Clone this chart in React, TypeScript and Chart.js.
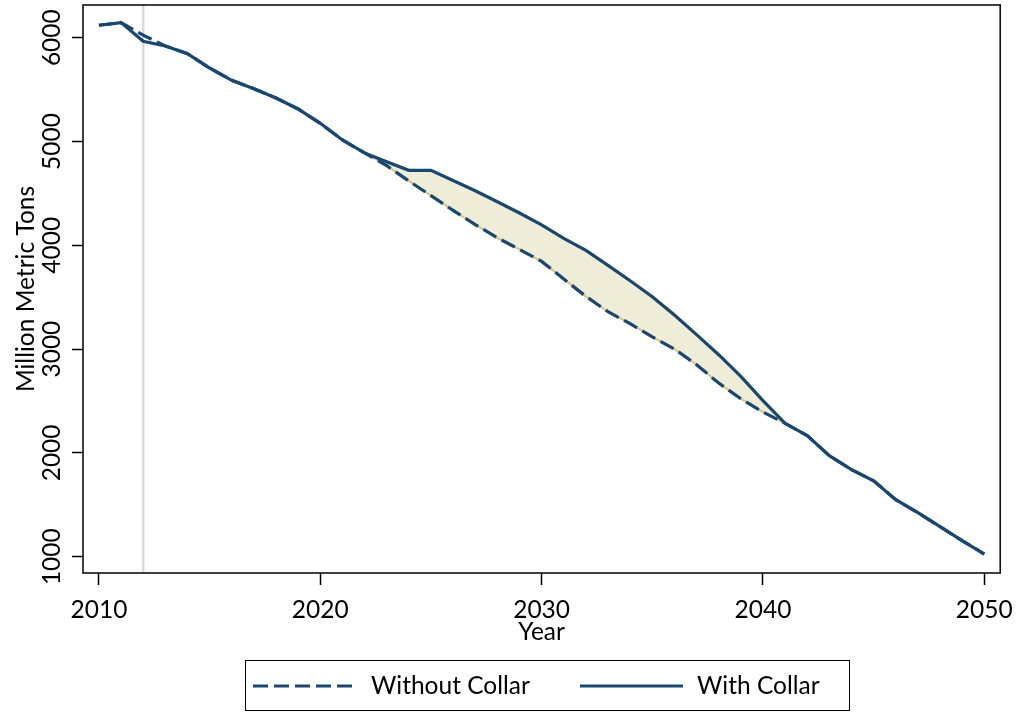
import { useEffect, useRef } from "react";
import { Chart, registerables } from "chart.js";

Chart.register(...registerables);

const years = [
  2010, 2011, 2012, 2013, 2014, 2015, 2016, 2017, 2018, 2019,
  2020, 2021, 2022, 2023, 2024, 2025, 2026, 2027, 2028, 2029,
  2030, 2031, 2032, 2033, 2034, 2035, 2036, 2037, 2038, 2039,
  2040, 2041, 2042, 2043, 2044, 2045, 2046, 2047, 2048, 2049, 2050,
];

const withCollar = [
  6120, 6145, 5965, 5920, 5846, 5708, 5589, 5509, 5419, 5313,
  5175, 5015, 4890, 4805, 4722, 4722, 4625, 4525, 4420, 4311,
  4196, 4067, 3951, 3806, 3659, 3505, 3328, 3139, 2946, 2737,
  2503, 2285, 2166, 1973, 1838, 1732, 1549, 1424, 1289, 1154, 1026,
];

const withoutCollar = [
  6120, 6145, 6025, 5920, 5846, 5708, 5589, 5509, 5419, 5313,
  5175, 5015, 4890, 4767, 4620, 4478, 4336, 4200, 4072, 3960,
  3845, 3675, 3508, 3360, 3245, 3117, 3001, 2850, 2673, 2522,
  2394, 2285, 2166, 1973, 1838, 1732, 1549, 1424, 1289, 1154, 1026,
];

const bandYears = [2022, 2041];
const referenceYears = [2012];
const xTicks = [2010, 2020, 2030, 2040, 2050];
const yTicks = [1000, 2000, 3000, 4000, 5000, 6000];
const xRange = [2009.28, 2050.72];
const yRange = [843, 6315];
const seriesLabels = ["Without Collar", "With Collar"];
const xTitle = "Year";
const yTitle = "Million Metric Tons";

const NAVY = "#1A476F";
const FILL = "#EFECD8";
const TAN = "#D2C687";
const FONT = 'Lato, "Open Sans", sans-serif';
const FS = 24.5;

const toPoints = (vals: number[]) => years.map((x, i) => ({ x, y: vals[i] }));
const inBand = (p: { x: number }) => p.x >= bandYears[0] && p.x <= bandYears[1];

const decorPlugin = {
  id: "decor",
  beforeDatasetsDraw(chart: any) {
    const { ctx, chartArea, scales } = chart;
    ctx.save();
    ctx.strokeStyle = "#DADADA";
    ctx.lineWidth = 2.5;
    referenceYears.forEach((yr) => {
      const x = scales.x.getPixelForValue(yr);
      ctx.beginPath();
      ctx.moveTo(x, chartArea.top);
      ctx.lineTo(x, chartArea.bottom);
      ctx.stroke();
    });
    ctx.restore();
  },
  afterDraw(chart: any) {
    const { ctx, chartArea, scales } = chart;
    ctx.save();
    ctx.strokeStyle = "#111";
    ctx.lineWidth = 1.6;
    ctx.strokeRect(
      chartArea.left,
      chartArea.top,
      chartArea.right - chartArea.left,
      chartArea.bottom - chartArea.top
    );
    ctx.fillStyle = "#000";
    ctx.font = `${FS}px ${FONT}`;
    ctx.textAlign = "center";
    ctx.textBaseline = "middle";
    yTicks.forEach((v) => {
      const y = scales.y.getPixelForValue(v);
      ctx.save();
      ctx.translate(52, y);
      ctx.rotate(-Math.PI / 2);
      ctx.fillText(String(v), 0, 0);
      ctx.restore();
    });
    ctx.save();
    ctx.translate(26, (chartArea.top + chartArea.bottom) / 2);
    ctx.rotate(-Math.PI / 2);
    ctx.fillText(yTitle, 0, 0);
    ctx.restore();
    ctx.fillText(xTitle, (chartArea.left + chartArea.right) / 2, 632);
    ctx.strokeStyle = "#000";
    ctx.lineWidth = 1;
    ctx.strokeRect(245.5, 660.5, 604, 50);
    ctx.strokeStyle = NAVY;
    ctx.lineWidth = 3;
    ctx.setLineDash([15, 6]);
    ctx.beginPath();
    ctx.moveTo(253, 686);
    ctx.lineTo(355, 686);
    ctx.stroke();
    ctx.setLineDash([]);
    ctx.beginPath();
    ctx.moveTo(580, 686);
    ctx.lineTo(683, 686);
    ctx.stroke();
    ctx.textAlign = "left";
    ctx.fillText(seriesLabels[0], 371, 686);
    ctx.fillText(seriesLabels[1], 697, 686);
    ctx.restore();
  },
};

export default function App() {
  const ref = useRef<HTMLCanvasElement | null>(null);

  useEffect(() => {
    if (!ref.current) return;
    const solidPts = toPoints(withCollar);
    const dashPts = toPoints(withoutCollar);
    const chart = new Chart(ref.current, {
      type: "line",
      data: {
        datasets: [
          {
            label: seriesLabels[1],
            data: solidPts,
            borderColor: NAVY,
            borderWidth: 3.2,
            pointRadius: 0,
            fill: false,
            tension: 0,
          },
          {
            label: seriesLabels[0],
            data: dashPts,
            borderColor: NAVY,
            borderWidth: 3.2,
            borderDash: [15, 6],
            pointRadius: 0,
            fill: false,
            tension: 0,
          },
          {
            label: "band-lower",
            data: dashPts.filter(inBand),
            borderColor: TAN,
            borderWidth: 2,
            backgroundColor: FILL,
            pointRadius: 0,
            fill: "+1",
            tension: 0,
          },
          {
            label: "band-upper",
            data: solidPts.filter(inBand),
            borderColor: "rgba(0,0,0,0)",
            borderWidth: 0,
            pointRadius: 0,
            fill: false,
            tension: 0,
          },
        ],
      },
      options: {
        animation: false,
        responsive: false,
        devicePixelRatio: 1,
        layout: { padding: { left: 0, right: 17, top: 5, bottom: 0 } },
        plugins: {
          legend: { display: false },
          tooltip: { enabled: false },
        },
        scales: {
          x: {
            type: "linear",
            min: xRange[0],
            max: xRange[1],
            afterBuildTicks: (s: any) => {
              s.ticks = xTicks.map((value) => ({ value }));
            },
            afterFit: (s: any) => {
              s.height = 139;
            },
            ticks: {
              color: "#000",
              font: { family: FONT, size: FS },
              padding: 10,
              maxRotation: 0,
              callback: (v: any) => String(v),
            },
            grid: {
              display: true,
              drawOnChartArea: false,
              drawTicks: true,
              tickLength: 12,
              tickColor: "#000",
              tickWidth: 1.5,
            },
            border: { display: false },
          },
          y: {
            type: "linear",
            min: yRange[0],
            max: yRange[1],
            afterBuildTicks: (s: any) => {
              s.ticks = yTicks.map((value) => ({ value }));
            },
            afterFit: (s: any) => {
              s.width = 83;
            },
            ticks: { display: false },
            grid: {
              display: true,
              drawOnChartArea: false,
              drawTicks: true,
              tickLength: 11,
              tickColor: "#000",
              tickWidth: 1.5,
            },
            border: { display: false },
          },
        },
      },
      plugins: [decorPlugin],
    });
    return () => chart.destroy();
  }, []);

  return (
    <div style={{ position: "absolute", left: 0, top: 0, width: 1023, height: 712, background: "#fff" }}>
      <canvas ref={ref} width={1023} height={712} style={{ width: 1023, height: 712, display: "block" }} />
    </div>
  );
}
